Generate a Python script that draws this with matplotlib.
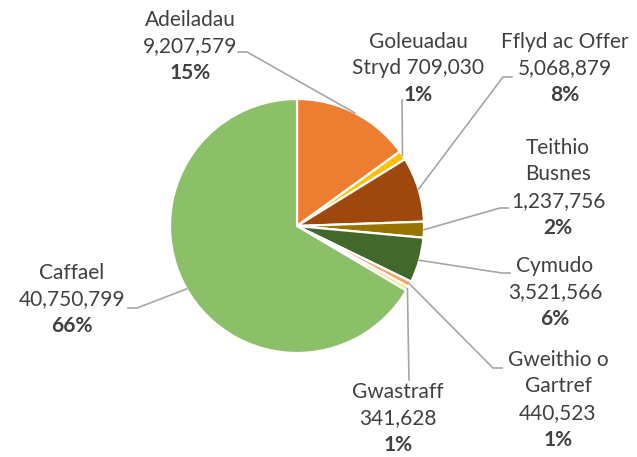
import matplotlib.pyplot as plt
import numpy as np

plt.rcParams["font.family"] = ["Lato", "DejaVu Sans"]

W, H = 637, 457

categories = [
    "Adeiladau",
    "Goleuadau\nStryd",
    "Fflyd ac Offer",
    "Teithio\nBusnes",
    "Cymudo",
    "Gweithio o\nGartref",
    "Gwastraff",
    "Caffael",
]
values = [9207579, 709030, 5068879, 1237756, 3521566, 440523, 341628, 40750799]
pct_labels = ["15%", "1%", "8%", "2%", "6%", "1%", "1%", "66%"]
colors = ["#ED7D31", "#FFC000", "#9E480E", "#997300", "#43682B", "#F4A46A", "#FFE08A", "#8BC068"]

# label text layout: (x centre, y of first line) in pixels from top-left
label_pos = [(190, 20), (418, 42), (565, 42), (558, 148), (555, 266), (558, 360), (398, 392), (72, 273)]
# leader line points after the pie edge, in pixels
leaders = [
    [(247, 52), (238, 52)],
    [(402, 100)],
    [(503, 77), (512, 77)],
    [(500, 208), (508, 208)],
    [(502, 273), (510, 273)],
    [(493, 368), (502, 368)],
    [(409, 380)],
    [(137, 308), (128, 308)],
]

cx, cy, r = 297, 226, 127
line_h = 26.5
txt_color = "#404040"


def py(y):
    return H - y


fig = plt.figure(figsize=(W / 100, H / 100), dpi=100)
ax = fig.add_axes([0, 0, 1, 1])

wedges, _ = ax.pie(
    values,
    colors=colors,
    startangle=90,
    counterclock=False,
    center=(cx, py(cy)),
    radius=r,
    wedgeprops=dict(edgecolor="white", linewidth=1.6),
)

for w, cat, v, pct, (lx, ly), pts in zip(wedges, categories, values, pct_labels, label_pos, leaders):
    mid = np.radians((w.theta1 + w.theta2) / 2)
    xs = [cx + r * np.cos(mid)] + [p[0] for p in pts]
    ys = [py(cy) + r * np.sin(mid)] + [py(p[1]) for p in pts]
    ax.plot(xs, ys, color="#A6A6A6", linewidth=1.2, zorder=1)

    name_lines = cat.split("\n")
    num = f"{v:,}"
    if cat.startswith("Goleuadau"):
        lines = [name_lines[0], name_lines[1] + " " + num]
    else:
        lines = name_lines + [num]
    for i, s in enumerate(lines):
        ax.text(lx, py(ly + i * line_h), s, ha="center", va="center",
                fontsize=15, color=txt_color)
    ax.text(lx, py(ly + len(lines) * line_h), pct, ha="center", va="center",
            fontsize=15, color=txt_color, fontweight="bold")

ax.set_xlim(0, W)
ax.set_ylim(0, H)
ax.set_aspect("equal")
ax.axis("off")

plt.savefig("out.png", dpi=100)
